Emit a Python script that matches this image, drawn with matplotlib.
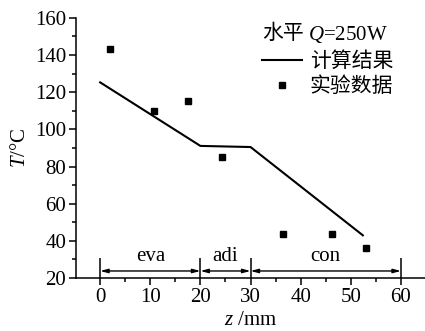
import matplotlib
matplotlib.use("Agg")
import matplotlib.pyplot as plt
from matplotlib.lines import Line2D
from matplotlib.ticker import MultipleLocator

plt.rcParams['font.family'] = ['Liberation Serif', 'Noto Sans CJK SC']
plt.rcParams['mathtext.fontset'] = 'custom'
plt.rcParams['mathtext.rm'] = 'Liberation Serif'
plt.rcParams['mathtext.it'] = 'Liberation Serif:italic'

# calculated temperature profile
calc_z = [0, 20, 30, 52.4]
calc_T = [125.3, 91.1, 90.5, 43.0]
# experimental points
exp_z = [2.0, 10.8, 17.5, 24.4, 36.5, 46.3, 53.1]
exp_T = [143, 110, 115, 85, 43.5, 43.7, 36.1]
# sections of the heat pipe
bounds = [0, 20, 30, 60]
names = ['eva', 'adi', 'con']

FS = 15

fig = plt.figure(figsize=(4.25, 3.31), dpi=100)
ax = fig.add_axes([0.179, 0.160, 0.821, 0.786])

ax.plot(calc_z, calc_T, color='black', lw=1.5)
ax.plot(exp_z, exp_T, 's', color='black', ms=4, ls='none')

# section marks along the bottom
ax.vlines(bounds, 20, 31, color='black', lw=1.1)
for i in range(len(names)):
    a, b = bounds[i], bounds[i + 1]
    ax.annotate('', xy=(b, 23.8), xytext=(a, 23.8),
                arrowprops=dict(arrowstyle='<|-|>,head_length=0.45,head_width=0.12',
                                color='black', lw=1.0, shrinkA=0, shrinkB=0))
    ax.text((a + b) / 2, 26.3, names[i], ha='center', va='bottom', fontsize=FS)

ax.set_xlim(-4.8, 64.8)
ax.set_ylim(20, 160)
ax.xaxis.set_major_locator(MultipleLocator(10))
ax.xaxis.set_minor_locator(MultipleLocator(5))
ax.yaxis.set_major_locator(MultipleLocator(20))
ax.yaxis.set_minor_locator(MultipleLocator(10))
ax.tick_params(which='major', length=5, width=1.1, labelsize=FS, pad=2)
ax.tick_params(which='minor', length=3, width=1.1)
for s in ['top', 'right']:
    ax.spines[s].set_visible(False)
for s in ['left', 'bottom']:
    ax.spines[s].set_linewidth(1.1)

ax.set_xlabel('$z$ /mm', fontsize=FS, labelpad=3)
ax.set_ylabel('$T$/°C', fontsize=FS, labelpad=4)

# legend title (two pieces so the CJK font fallback still works)
ax.text(0.533, 0.938, '水平', transform=ax.transAxes, fontsize=FS,
        ha='left', va='center')
ax.text(0.665, 0.938, '$Q$=250W', transform=ax.transAxes, fontsize=FS,
        ha='left', va='center')

handles = [Line2D([], [], color='black', lw=1.5),
           Line2D([], [], marker='s', color='black', ms=4, ls='none')]
ax.legend(handles, ['计算结果', '实验数据'], loc='upper left',
          bbox_to_anchor=(0.533, 0.868), frameon=False, fontsize=FS,
          handlelength=1.9, handletextpad=0.4, labelspacing=0.25,
          borderpad=0, borderaxespad=0)

fig.savefig('out.png', dpi=100)
